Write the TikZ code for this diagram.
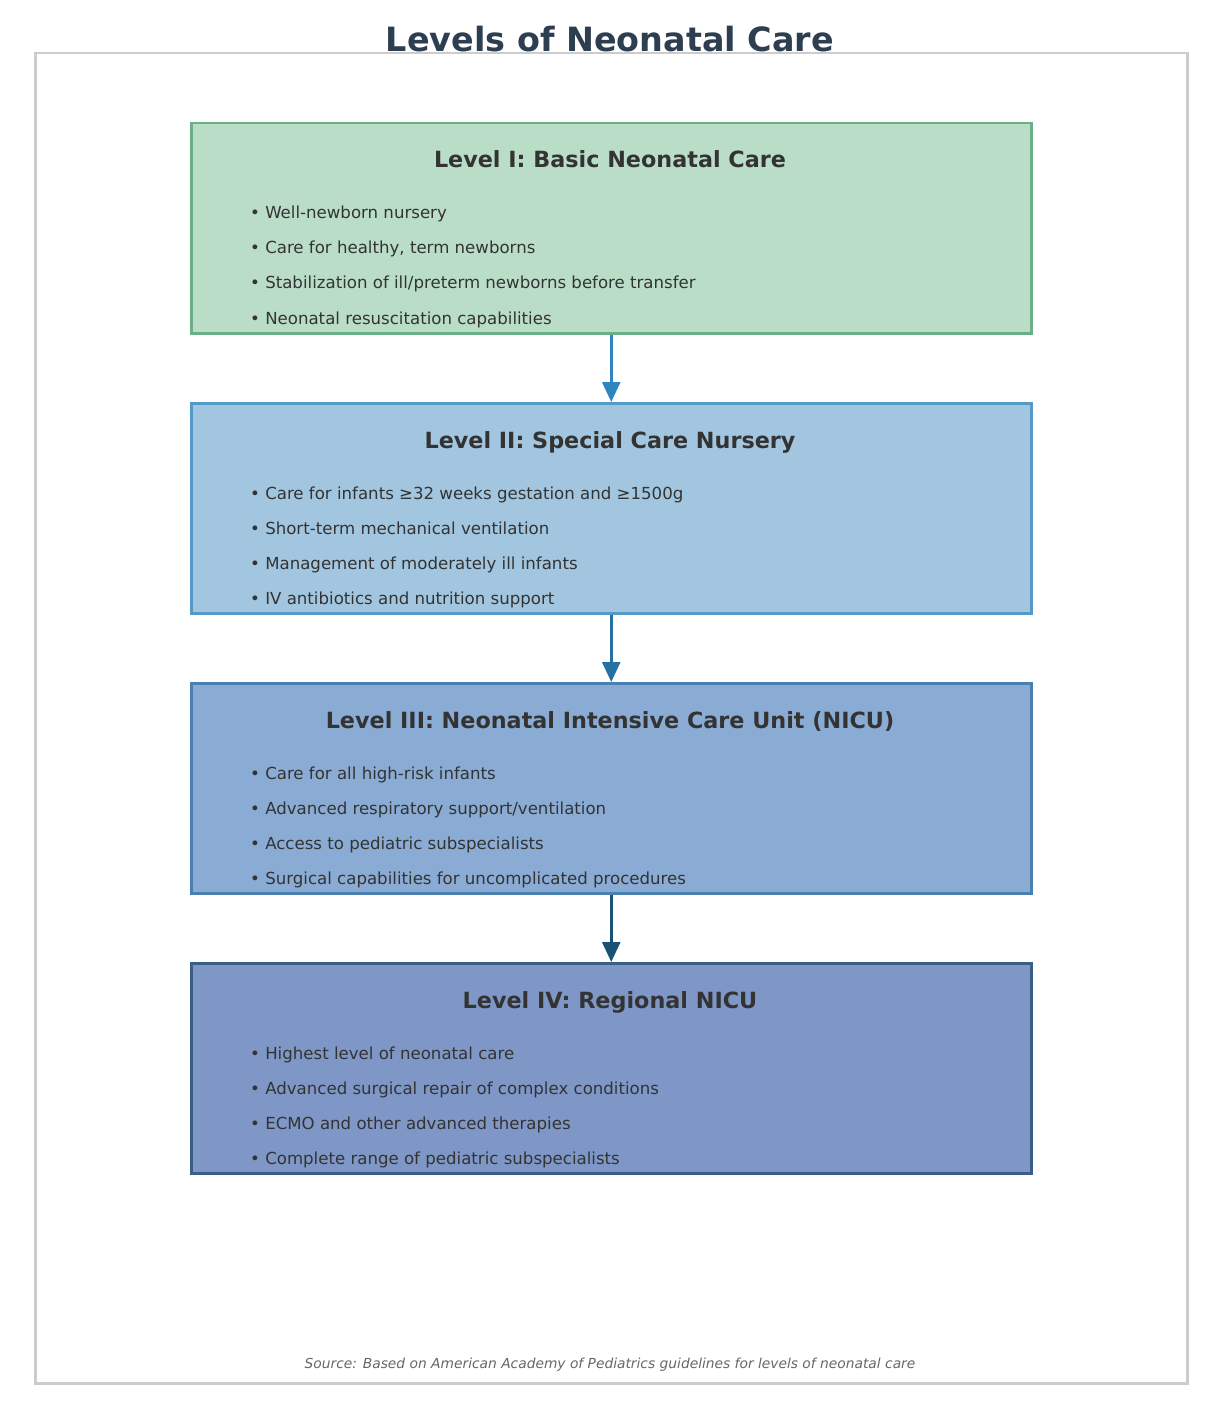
\documentclass[tikz,border=0pt]{standalone}
\usepackage{fontspec}
\setmainfont{DejaVu Sans}
\usetikzlibrary{arrows.meta}
\definecolor{titlec}{HTML}{2C3E50}
\definecolor{txtc}{HTML}{333333}
\definecolor{framec}{HTML}{CCCCCC}
\definecolor{fillA}{HTML}{BADDC8}
\definecolor{drawA}{HTML}{6AB087}
\definecolor{fillB}{HTML}{A2C6DF}
\definecolor{drawB}{HTML}{5499C7}
\definecolor{fillC}{HTML}{8AABD3}
\definecolor{drawC}{HTML}{4A80B0}
\definecolor{fillD}{HTML}{7E97C7}
\definecolor{drawD}{HTML}{3A5F87}
\definecolor{arrA}{HTML}{2E86C1}
\definecolor{arrB}{HTML}{2471A3}
\definecolor{arrC}{HTML}{1A5276}
\begin{document}
\begin{tikzpicture}[x=1pt,y=-1pt,
  levelbox/.style={draw, line width=2.5pt, minimum width=840pt, minimum height=210pt, inner sep=0pt, anchor=north west},
  boxtitle/.style={font=\fontsize{22.3}{26}\selectfont\bfseries, text=txtc, anchor=center, text height=17pt, text depth=5pt, inner sep=0pt},
  bullet/.style={font=\fontsize{16.6}{20}\selectfont, text=txtc, anchor=west, inner sep=0pt, text height=12pt, text depth=4pt},
  flow/.style={line width=2.5pt, -{Triangle[length=20pt,width=18pt]}}]
\useasboundingbox (0,0) rectangle (1220,1420);
\node[draw=framec, line width=2.5pt, minimum width=1152pt, minimum height=1330pt, inner sep=0pt, anchor=north west] (frame) at (34,52) {};
\node[font=\fontsize{33.4}{38}\selectfont\bfseries, text=titlec, anchor=base] (title) at (610,52) {Levels of Neonatal Care};

% Level I
\node[levelbox, fill=fillA, draw=drawA] (l1) at (190,122) {};
\node[boxtitle] (t1) at (610,162) {Level I: Basic Neonatal Care};
\node[bullet] (b11) at (250,215) {• Well-newborn nursery};
\node[bullet] (b12) at (250,250) {• Care for healthy, term newborns};
\node[bullet] (b13) at (250,285) {• Stabilization of ill/preterm newborns before transfer};
\node[bullet] (b14) at (250,320) {• Neonatal resuscitation capabilities};

% Level II
\node[levelbox, fill=fillB, draw=drawB] (l2) at (190,402) {};
\node[boxtitle] (t2) at (610,442) {Level II: Special Care Nursery};
\node[bullet] (b21) at (250,495) {• Care for infants ≥32 weeks gestation and ≥1500g};
\node[bullet] (b22) at (250,530) {• Short-term mechanical ventilation};
\node[bullet] (b23) at (250,565) {• Management of moderately ill infants};
\node[bullet] (b24) at (250,600) {• IV antibiotics and nutrition support};

% Level III
\node[levelbox, fill=fillC, draw=drawC] (l3) at (190,682) {};
\node[boxtitle] (t3) at (610,722) {Level III: Neonatal Intensive Care Unit (NICU)};
\node[bullet] (b31) at (250,775) {• Care for all high-risk infants};
\node[bullet] (b32) at (250,810) {• Advanced respiratory support/ventilation};
\node[bullet] (b33) at (250,845) {• Access to pediatric subspecialists};
\node[bullet] (b34) at (250,880) {• Surgical capabilities for uncomplicated procedures};

% Level IV
\node[levelbox, fill=fillD, draw=drawD] (l4) at (190,962) {};
\node[boxtitle] (t4) at (610,1002) {Level IV: Regional NICU};
\node[bullet] (b41) at (250,1055) {• Highest level of neonatal care};
\node[bullet] (b42) at (250,1090) {• Advanced surgical repair of complex conditions};
\node[bullet] (b43) at (250,1125) {• ECMO and other advanced therapies};
\node[bullet] (b44) at (250,1160) {• Complete range of pediatric subspecialists};

\draw[flow, arrA] (l1.south) -- (l2.north);
\draw[flow, arrB] (l2.south) -- (l3.north);
\draw[flow, arrC] (l3.south) -- (l4.north);

\node[font=\fontsize{13.8}{17}\selectfont\itshape, text=black!60, anchor=center] (src) at (610,1365) {Source: Based on American Academy of Pediatrics guidelines for levels of neonatal care};
\end{tikzpicture}
\end{document}
